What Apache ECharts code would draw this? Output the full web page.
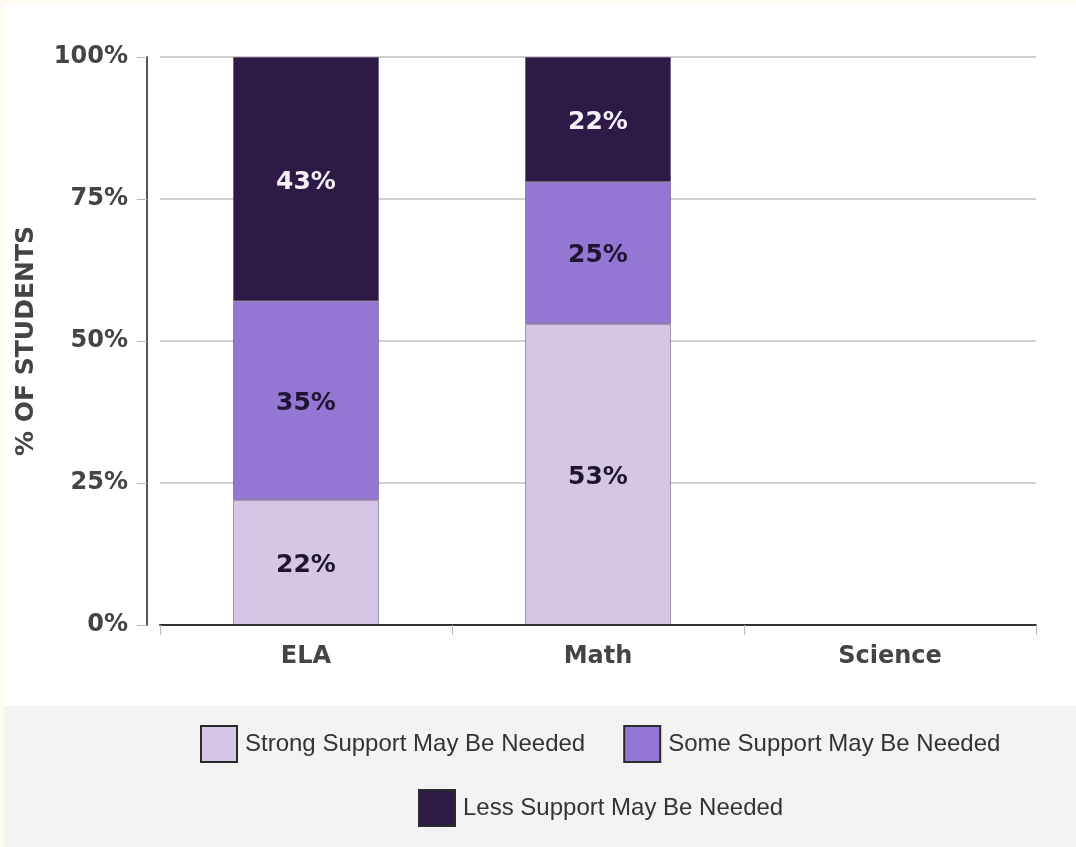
<!DOCTYPE html>
<html>
<head>
<meta charset="utf-8">
<script src="https://cdn.jsdelivr.net/npm/echarts@6/dist/echarts.min.js"></script>
<style>
html,body{margin:0;padding:0;background:#fffaf0;}
#c{width:1076px;height:847px;}
</style>
</head>
<body>
<div id="c"></div>
<script>
const categories = ['ELA', 'Math', 'Science'];
const seriesNames = ['Strong Support May Be Needed', 'Some Support May Be Needed', 'Less Support May Be Needed'];
const strongSupport = [22, 53, null];
const someSupport = [35, 25, null];
const lessSupport = [43, 22, null];
const yTicks = [0, 25, 50, 75, 100];
const yAxisTitle = '% OF STUDENTS';

const colors = ['#d6c6e6', '#9477d3', '#2e1a47'];
const labelColors = ['#1e1433', '#1e1433', '#f4f0f8'];
const values = [strongSupport, someSupport, lessSupport];

const chart = echarts.init(document.getElementById('c'), null, {renderer: 'canvas'});
const axisFont = {fontFamily: 'DejaVu Sans', fontWeight: 'bold', fontSize: 24, color: '#444'};
const legendText = {fontFamily: 'Liberation Sans', fontSize: 24, color: '#333', padding: [0, 0, 0, 3]};

const option = {
  backgroundColor: '#fffaf0',
  animation: false,
  graphic: [
    {type: 'rect', left: 4, top: 4, shape: {width: 1072, height: 702}, style: {fill: '#ffffff'}, z: -10},
    {type: 'rect', left: 4, top: 706, shape: {width: 1072, height: 141}, style: {fill: '#f3f3f3'}, z: -10}
  ],
  grid: {left: 160, right: 40, top: 57, bottom: 222, containLabel: false},
  xAxis: {
    type: 'category',
    data: categories,
    boundaryGap: true,
    axisLine: {lineStyle: {color: '#333', width: 2}},
    axisTick: {show: true, length: 10, lineStyle: {color: '#bbb', width: 1}},
    axisLabel: Object.assign({margin: 20}, axisFont),
    z: 5
  },
  yAxis: {
    type: 'value',
    min: 0, max: 100, interval: 25,
    offset: 13,
    name: yAxisTitle,
    nameLocation: 'middle',
    nameGap: 108,
    nameRotate: 90,
    nameTextStyle: {fontFamily: 'DejaVu Sans', fontWeight: 'bold', fontSize: 25, color: '#444'},
    axisLine: {show: true, lineStyle: {color: '#555', width: 2}},
    axisTick: {show: true, length: 10, lineStyle: {color: '#bbb'}},
    axisLabel: Object.assign({margin: 19, formatter: v => yTicks.includes(v) ? v + '%' : ''}, axisFont),
    splitLine: {show: true, lineStyle: {color: '#cfcfcf', width: 2}}
  },
  legend: [
    {
      data: [seriesNames[0], seriesNames[1]],
      left: 200, top: 725, padding: 0,
      orient: 'horizontal',
      icon: 'rect',
      itemWidth: 36, itemHeight: 36,
      itemGap: 38,
      itemStyle: {borderColor: '#2a2a2a', borderWidth: 2},
      textStyle: legendText,
      selectedMode: false
    },
    {
      data: [seriesNames[2]],
      left: 418, top: 789, padding: 0,
      orient: 'horizontal',
      icon: 'rect',
      itemWidth: 36, itemHeight: 36,
      itemStyle: {borderColor: '#2a2a2a', borderWidth: 2},
      textStyle: legendText,
      selectedMode: false
    }
  ],
  series: seriesNames.map((name, i) => ({
    name: name,
    type: 'bar',
    stack: 'total',
    barWidth: '50%',
    data: values[i],
    itemStyle: {color: colors[i], borderColor: 'rgba(70,50,100,0.45)', borderWidth: 1},
    label: {
      show: true,
      position: 'inside',
      offset: [0, 3],
      formatter: p => p.value == null ? '' : p.value + '%',
      fontFamily: 'DejaVu Sans', fontWeight: 'bold', fontSize: 25,
      color: labelColors[i]
    },
    z: 3
  }))
};
chart.setOption(option);
</script>
</body>
</html>
